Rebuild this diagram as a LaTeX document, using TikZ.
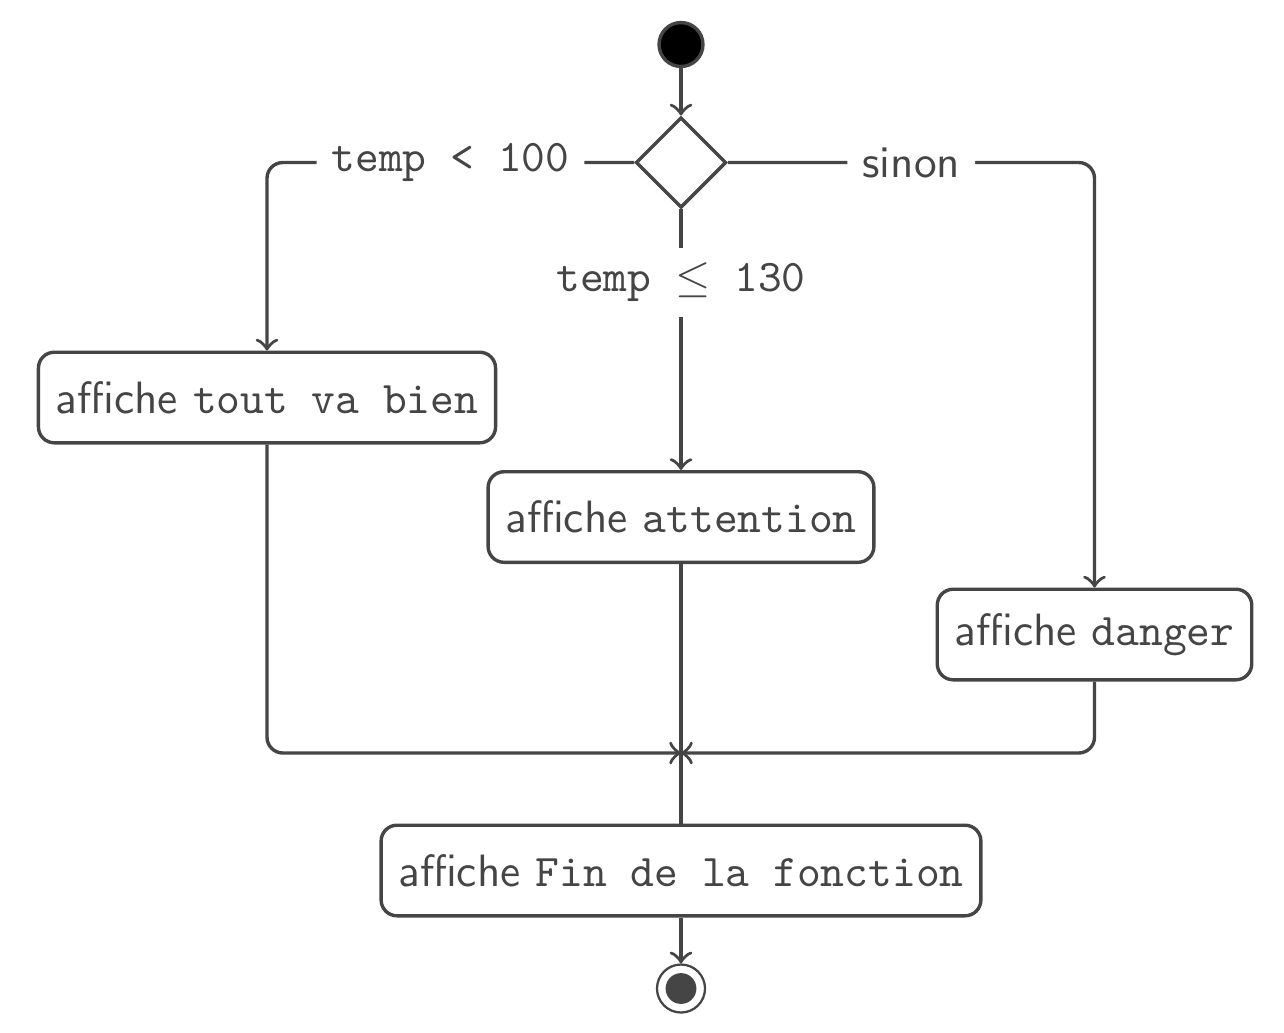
\documentclass[tikz,border=0pt]{standalone}
\usepackage{xcolor}
\usetikzlibrary{shapes.geometric,arrows.meta}

\begin{document}
\begin{tikzpicture}[x=0.2208pt,y=0.2208pt,yscale=-1,xscale=1,
  color=black!73, line width=0.75pt, font=\sffamily,
  >={Classical TikZ Rightarrow[length=2.6pt,width=5pt]},
  action/.style={draw, rounded corners=3.5pt, fill=white, minimum height=20pt, inner xsep=3.8pt},
  guard/.style={fill=white, inner sep=3.3pt},
  flow/.style={->, rounded corners=3.5pt}]
\useasboundingbox (0,0) rectangle (1284,1032);

%Shape: Circle [initial]
\node (init) [circle, draw, fill=black, minimum size=9.7pt, inner sep=0pt] at (681,44.5) {};
%Shape: Diamond [decision]
\node (choix) [diamond, draw, fill=white, minimum size=20pt, inner sep=0pt] at (681,162.5) {};
%Shape: Circle [final]
\node (fin) [circle, draw, line width=0.5pt, minimum size=10.6pt, inner sep=0pt] at (681,988.5) {};
\node (finpt) [circle, fill, minimum size=6.8pt, inner sep=0pt] at (fin.center) {};

% Text Node
\node (bien) [action] at (267,397.5) {affiche \texttt{tout va bien}};
% Text Node
\node (attention) [action] at (681,517) {affiche \texttt{attention}};
% Text Node
\node (danger) [action] at (1094.5,634.5) {affiche \texttt{danger}};
% Text Node
\node (fonction) [action] at (681,870.5) {affiche \texttt{Fin de la fonction}};

\coordinate (jonction) at (681,753);

%Straight Lines
\draw [flow] (init) -- (choix);
\draw [flow] (choix.west) -| node [guard, near start] {\texttt{temp < 100}} (bien.north);
\draw [flow] (choix.south) -- node [guard, pos=0.28] {\texttt{temp $\leq$ 130}} (attention.north);
\draw [flow] (choix.east) -| node [guard, near start] {sinon} (danger.north);
\draw [flow] (bien.south) |- (jonction);
\draw [flow] (danger.south) |- (jonction);
\draw (attention.south) -- (fonction.north);
\draw [flow] (fonction.south) -- (fin);

\end{tikzpicture}
\end{document}
